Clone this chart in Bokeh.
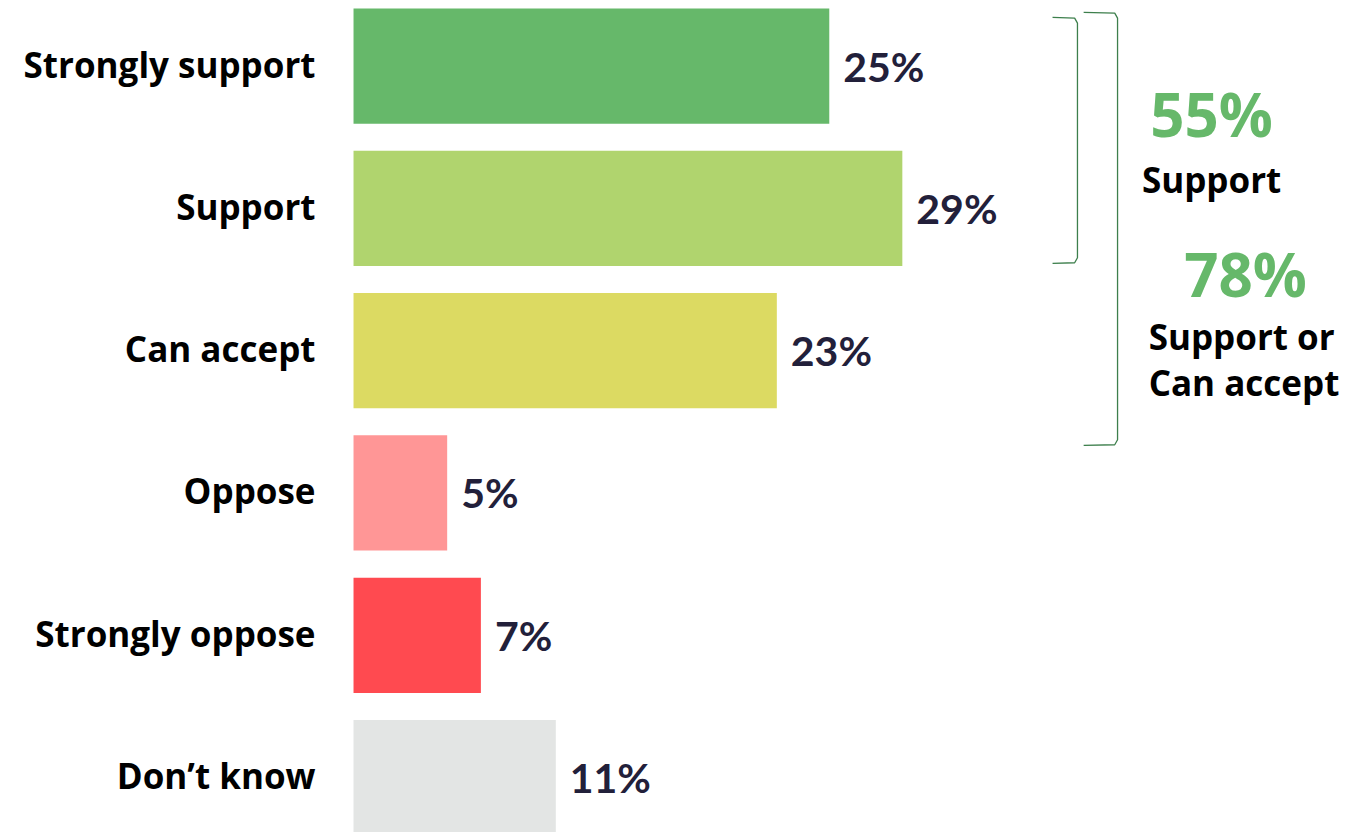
from bokeh.plotting import figure
from bokeh.models import ColumnDataSource, Range1d
from bokeh.core.properties import value
from bokeh.embed import file_html
from bokeh.resources import INLINE

# ---- data ----
categories = ["Strongly support", "Support", "Can accept", "Oppose", "Strongly oppose", "Don\u2019t know"]
percent = [25.4, 29.3, 22.6, 5.0, 6.8, 10.8]      # bar lengths
labels = [f"{round(v)}%" for v in percent]         # shown rounded
bar_colors = ["#66b86a", "#b0d46e", "#dcda62", "#ff9696", "#ff4a50", "#e3e5e4"]

summary_values = ["55%", "78%"]
summary_labels = [["Support"], ["Support or", "Can accept"]]
summary_spans = [(0, 1), (0, 2)]   # category index ranges grouped by each bracket

LABEL_FONT = "Open Sans"
VALUE_FONT = "Lato"
W, H = 1348, 832

idx = list(range(len(categories)))
src = ColumnDataSource(dict(y=idx, v=percent, cat=categories, color=bar_colors, lab=labels))

p = figure(width=W, height=H, output_backend="svg", toolbar_location=None,
           x_range=Range1d(-18.847, 53.12), y_range=Range1d(5.386, -0.461),
           x_axis_location=None, y_axis_location=None, min_border=0,
           background_fill_color="white", border_fill_color="white")
p.outline_line_color = None
p.xgrid.visible = False
p.ygrid.visible = False

p.hbar(y="y", left=0, right="v", height=0.81, color="color", line_color=None, source=src)

p.text(x=0, y="y", text="cat", source=src, x_offset=-38, y_offset=-2,
       text_align="right", text_baseline="alphabetic",
       text_font=value(LABEL_FONT), text_font_style="bold", text_font_size="35px", text_color="#000000")

p.text(x="v", y="y", text="lab", source=src, x_offset=14, y_offset=0,
       text_align="left", text_baseline="alphabetic",
       text_font=value(VALUE_FONT), text_font_style="bold", text_font_size="41px", text_color="#22203a")

# ---- brackets ----
green_line = "#3d7f4c"
br_x = [(37.32, 38.65), (38.98, 40.79)]
br_pad = [(-0.342, 0.387), (-0.377, 0.666)]
xs, ys = [], []
for (a, b), (x0, x1), (pt, pb) in zip(summary_spans, br_x, br_pad):
    top = a + pt
    bot = b + pb
    xs.append([x0, x1 - 0.15, x1, x1, x1 - 0.15, x0])
    ys.append([top, top + 0.005, top + 0.04, bot - 0.04, bot - 0.005, bot])
p.multi_line(xs=xs, ys=ys, line_color=green_line, line_width=1.3)

# ---- summary texts ----
green = "#66b86a"
p.text(x=[45.81], y=[0.340], text=[summary_values[0]], text_align="center", text_baseline="alphabetic",
       text_font=value(LABEL_FONT), text_font_style="bold", text_font_size="60px", text_color=green)
p.text(x=[45.81], y=[0.797], text=[summary_labels[0][0]], text_align="center", text_baseline="alphabetic",
       text_font=value(LABEL_FONT), text_font_style="bold", text_font_size="35px", text_color="#000000")
p.text(x=[47.62], y=[1.464], text=[summary_values[1]], text_align="center", text_baseline="alphabetic",
       text_font=value(LABEL_FONT), text_font_style="bold", text_font_size="60px", text_color=green)
p.text(x=[42.45, 42.45], y=[1.900, 2.223], text=summary_labels[1], text_align="left", text_baseline="alphabetic",
       text_font=value(LABEL_FONT), text_font_style="bold", text_font_size="35px", text_color="#000000")

open("out.html", "w").write(file_html(p, INLINE))
